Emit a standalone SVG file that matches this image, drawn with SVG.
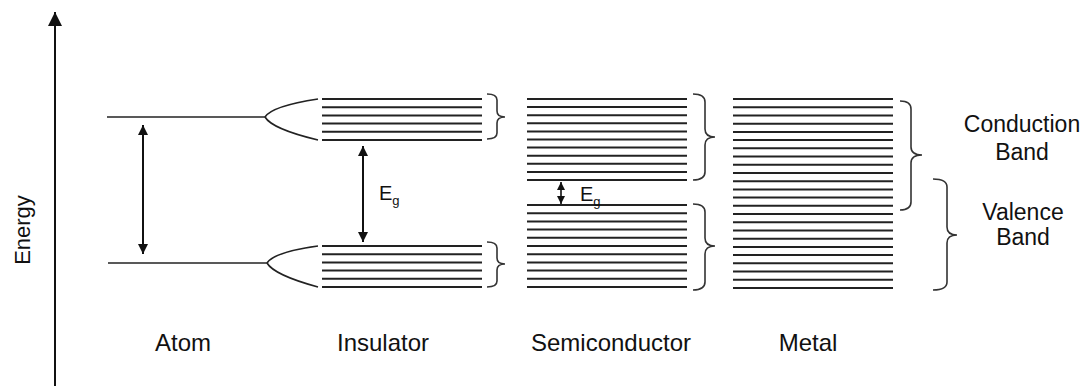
<svg xmlns="http://www.w3.org/2000/svg" width="1089" height="386" viewBox="0 0 1089 386">
<defs>
<style>
text{font-family:"Liberation Sans",Arial,sans-serif;fill:#111}
.lbl{font-size:24px;text-anchor:middle}
.side{font-size:23px;text-anchor:middle}
.band line{stroke:#222;stroke-width:2}
.lvl{stroke:#222;stroke-width:1.6;fill:none}
.brace{stroke:#333;stroke-width:1.6;fill:none}
.arr{stroke:#111;stroke-width:2;fill:none}
.eg{font-size:20px}
.sub{font-size:13px}
</style>
<marker id="ah" viewBox="0 0 10 10" refX="10" refY="5" markerWidth="10" markerHeight="10" markerUnits="userSpaceOnUse" orient="auto-start-reverse"><path d="M0,0 L10,5 L0,10 z" fill="#111"/></marker>
<marker id="ax" viewBox="0 0 10 10" refX="10" refY="5" markerWidth="15" markerHeight="14" markerUnits="userSpaceOnUse" orient="auto"><path d="M0,0 L10,5 L0,10 z" fill="#111"/></marker>
<marker id="sm" viewBox="0 0 10 10" refX="10" refY="5" markerWidth="8" markerHeight="8" markerUnits="userSpaceOnUse" orient="auto-start-reverse"><path d="M0,0 L10,5 L0,10 z" fill="#111"/></marker>
</defs>
<rect width="1089" height="386" fill="#fff"/>

<g id="axis">
<line x1="55" y1="386" x2="55" y2="12" class="arr" marker-end="url(#ax)"/>
<text transform="translate(30,230) rotate(-90)" font-size="22" text-anchor="middle">Energy</text>
</g>

<g id="atom">
<line x1="107" y1="117" x2="265" y2="117" class="lvl"/>
<line x1="108" y1="263" x2="267" y2="263" class="lvl"/>
<text class="lbl" x="183" y="351">Atom</text>
</g>

<g id="insulator">
<path class="lvl" d="M265,117 Q272,106 318,99 M265,117 Q272,129 318,140"/>
<path class="lvl" d="M267,263 Q274,252 318,246 M267,263 Q274,275 318,287"/>
<g class="band">
<line x1="322" y1="99" x2="482" y2="99"/>
<line x1="322" y1="107.2" x2="482" y2="107.2"/>
<line x1="322" y1="115.4" x2="482" y2="115.4"/>
<line x1="322" y1="123.6" x2="482" y2="123.6"/>
<line x1="322" y1="131.8" x2="482" y2="131.8"/>
<line x1="322" y1="140" x2="482" y2="140"/>
<line x1="322" y1="246" x2="482" y2="246"/>
<line x1="322" y1="254.2" x2="482" y2="254.2"/>
<line x1="322" y1="262.4" x2="482" y2="262.4"/>
<line x1="322" y1="270.6" x2="482" y2="270.6"/>
<line x1="322" y1="278.8" x2="482" y2="278.8"/>
<line x1="322" y1="287" x2="482" y2="287"/>
</g>
<path class="brace" d="M487,94 Q497,94 497,100 L497,111 Q497,117 505,117 Q497,117 497,123 L497,133 Q497,139 487,139"/>
<path class="brace" d="M487,242 Q497,242 497,248 L497,258 Q497,264 505,264 Q497,264 497,270 L497,281 Q497,287 487,287"/>
<text class="eg" x="379" y="200">E<tspan class="sub" dy="5">g</tspan></text>
<text class="lbl" x="383" y="351">Insulator</text>
</g>

<g id="semiconductor">
<g class="band">
<line x1="527" y1="99" x2="687" y2="99"/>
<line x1="527" y1="107.1" x2="687" y2="107.1"/>
<line x1="527" y1="115.2" x2="687" y2="115.2"/>
<line x1="527" y1="123.3" x2="687" y2="123.3"/>
<line x1="527" y1="131.4" x2="687" y2="131.4"/>
<line x1="527" y1="139.5" x2="687" y2="139.5"/>
<line x1="527" y1="147.6" x2="687" y2="147.6"/>
<line x1="527" y1="155.7" x2="687" y2="155.7"/>
<line x1="527" y1="163.8" x2="687" y2="163.8"/>
<line x1="527" y1="171.9" x2="687" y2="171.9"/>
<line x1="527" y1="180" x2="687" y2="180"/>
<line x1="527" y1="205" x2="687" y2="205"/>
<line x1="527" y1="213.2" x2="687" y2="213.2"/>
<line x1="527" y1="221.4" x2="687" y2="221.4"/>
<line x1="527" y1="229.6" x2="687" y2="229.6"/>
<line x1="527" y1="237.8" x2="687" y2="237.8"/>
<line x1="527" y1="246" x2="687" y2="246"/>
<line x1="527" y1="254.2" x2="687" y2="254.2"/>
<line x1="527" y1="262.4" x2="687" y2="262.4"/>
<line x1="527" y1="270.6" x2="687" y2="270.6"/>
<line x1="527" y1="278.8" x2="687" y2="278.8"/>
<line x1="527" y1="287" x2="687" y2="287"/>
</g>
<path class="brace" d="M693,94 Q705,94 705,102 L705,129 Q705,137 715,137 Q705,137 705,145 L705,172 Q705,180 693,180"/>
<path class="brace" d="M693,204 Q705,204 705,212 L705,238 Q705,246 715,246 Q705,246 705,254 L705,282 Q705,290 693,290"/>
<text class="eg" x="580" y="201">E<tspan class="sub" dy="5">g</tspan></text>
<text class="lbl" x="611" y="351">Semiconductor</text>
</g>

<g id="metal">
<g class="band">
<line x1="733" y1="99" x2="893" y2="99"/>
<line x1="733" y1="107.2" x2="893" y2="107.2"/>
<line x1="733" y1="115.4" x2="893" y2="115.4"/>
<line x1="733" y1="123.7" x2="893" y2="123.7"/>
<line x1="733" y1="131.9" x2="893" y2="131.9"/>
<line x1="733" y1="140.1" x2="893" y2="140.1"/>
<line x1="733" y1="148.3" x2="893" y2="148.3"/>
<line x1="733" y1="156.5" x2="893" y2="156.5"/>
<line x1="733" y1="164.7" x2="893" y2="164.7"/>
<line x1="733" y1="173" x2="893" y2="173"/>
<line x1="733" y1="181.2" x2="893" y2="181.2"/>
<line x1="733" y1="189.4" x2="893" y2="189.4"/>
<line x1="733" y1="197.6" x2="893" y2="197.6"/>
<line x1="733" y1="205.8" x2="893" y2="205.8"/>
<line x1="733" y1="214" x2="893" y2="214"/>
<line x1="733" y1="222.3" x2="893" y2="222.3"/>
<line x1="733" y1="230.5" x2="893" y2="230.5"/>
<line x1="733" y1="238.7" x2="893" y2="238.7"/>
<line x1="733" y1="246.9" x2="893" y2="246.9"/>
<line x1="733" y1="255.1" x2="893" y2="255.1"/>
<line x1="733" y1="263.3" x2="893" y2="263.3"/>
<line x1="733" y1="271.6" x2="893" y2="271.6"/>
<line x1="733" y1="279.8" x2="893" y2="279.8"/>
<line x1="733" y1="288" x2="893" y2="288"/>
</g>
<path class="brace" d="M900,101 Q911,101 911,109 L911,147 Q911,155 922,155 Q911,155 911,163 L911,202 Q911,210 900,210"/>
<path class="brace" d="M933,179 Q947,179 947,187 L947,227 Q947,235 957,235 Q947,235 947,243 L947,282 Q947,290 933,290"/>
<text class="lbl" x="808" y="351">Metal</text>
</g>

<g id="labels">
<text class="side" x="1022" y="132">Conduction</text>
<text class="side" x="1022" y="160">Band</text>
<text class="side" x="1023" y="220">Valence</text>
<text class="side" x="1023" y="245">Band</text>
</g>

<g id="connectors">
<line x1="143" y1="125" x2="143" y2="254" class="arr" marker-start="url(#ah)" marker-end="url(#ah)"/>
<line x1="363" y1="146" x2="363" y2="242" class="arr" marker-start="url(#ah)" marker-end="url(#ah)"/>
<line x1="561" y1="182" x2="561" y2="204" stroke="#111" stroke-width="1.6" marker-start="url(#sm)" marker-end="url(#sm)"/>
</g>
</svg>
